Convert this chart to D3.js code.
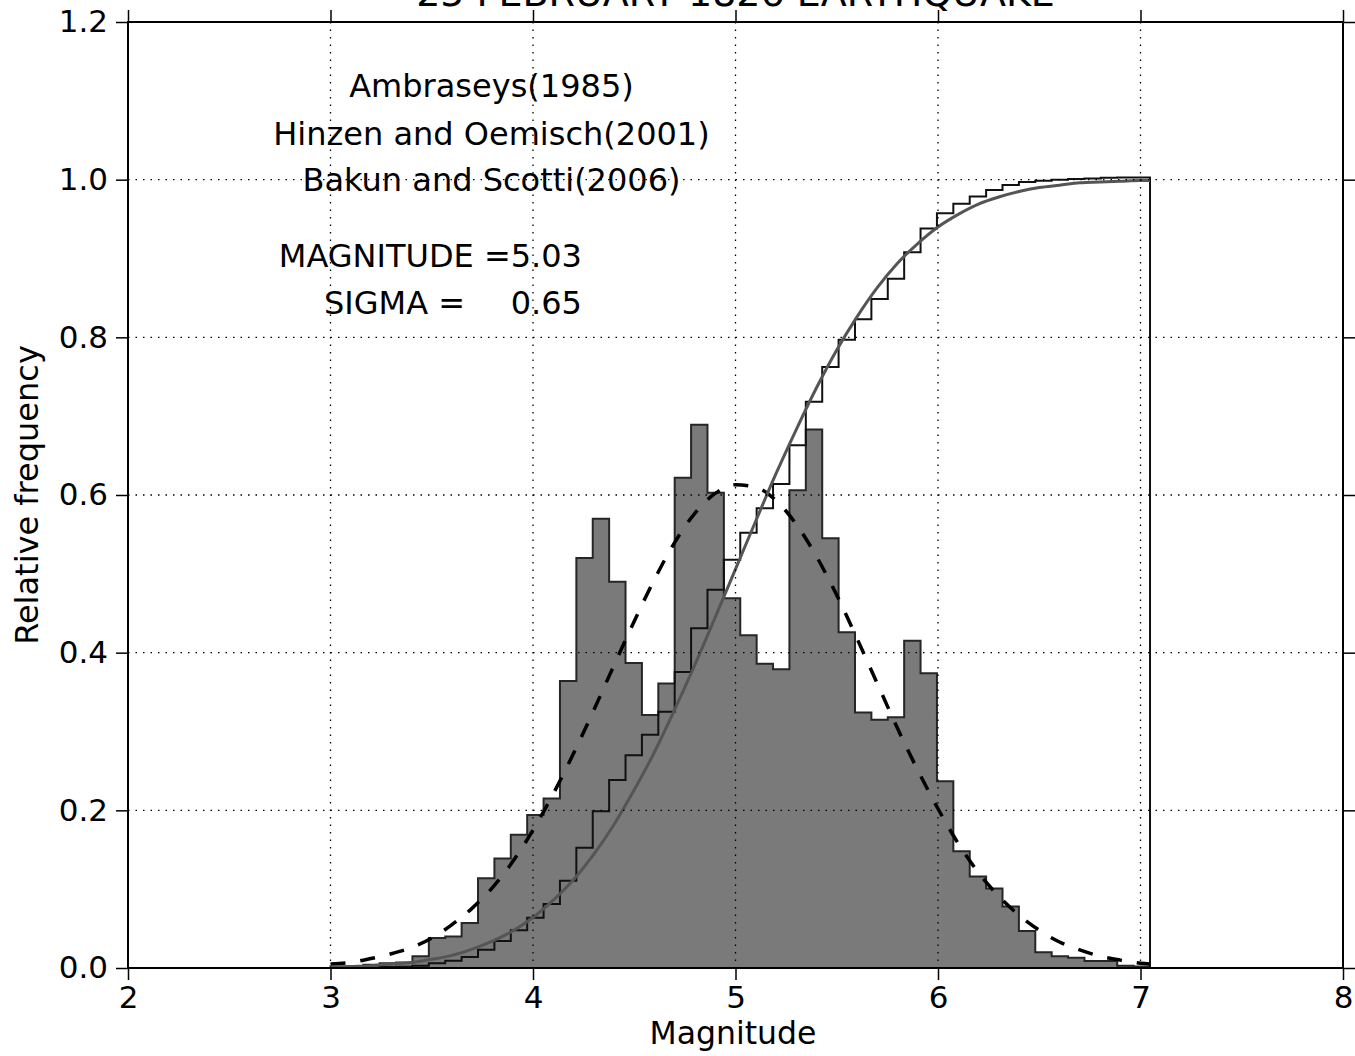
<!DOCTYPE html>
<html>
<head>
<meta charset="utf-8">
<script src="https://cdn.jsdelivr.net/npm/d3@7/dist/d3.min.js"></script>
<style>
html, body { margin: 0; padding: 0; background: #fff; overflow: hidden; }
svg { display: block; }
text { font-family: "DejaVu Sans", sans-serif; fill: #000; }
</style>
</head>
<body>
<div id="chart"></div>
<script>
// histogram: 50 equal bins between magMin and magMax (relative frequency, density)
const magMin = 3.0;
const magMax = 7.047;
const relFreq = [
  0.002, 0.002, 0.004, 0.006, 0.007, 0.015, 0.038, 0.040, 0.057, 0.114,
  0.139, 0.169, 0.194, 0.215, 0.364, 0.520, 0.570, 0.490, 0.387, 0.321,
  0.361, 0.622, 0.689, 0.603, 0.469, 0.422, 0.386, 0.379, 0.606, 0.683,
  0.545, 0.426, 0.324, 0.315, 0.318, 0.415, 0.374, 0.237, 0.148, 0.116,
  0.101, 0.078, 0.047, 0.020, 0.015, 0.013, 0.009, 0.009, 0.003, 0.002
];

// fitted curves read at these magnitudes
const curveMags = [
  3.0, 3.1, 3.2, 3.3, 3.4, 3.5, 3.6, 3.7, 3.8, 3.9,
  4.0, 4.1, 4.2, 4.3, 4.4, 4.5, 4.6, 4.7, 4.8, 4.9,
  5.0, 5.1, 5.2, 5.3, 5.4, 5.5, 5.6, 5.7, 5.8, 5.9,
  6.0, 6.1, 6.2, 6.3, 6.4, 6.5, 6.6, 6.7, 6.8, 6.9,
  7.0, 7.047
];
const normalPdf = [
  0.005, 0.007, 0.012, 0.018, 0.026, 0.038, 0.055, 0.076, 0.102, 0.135,
  0.175, 0.221, 0.272, 0.327, 0.384, 0.440, 0.493, 0.540, 0.577, 0.602,
  0.613, 0.610, 0.593, 0.563, 0.522, 0.473, 0.418, 0.361, 0.304, 0.251,
  0.202, 0.158, 0.121, 0.091, 0.067, 0.048, 0.033, 0.023, 0.015, 0.010,
  0.006, 0.005
];
const normalCdf = [
  0.001, 0.002, 0.003, 0.005, 0.007, 0.011, 0.016, 0.024, 0.034, 0.047,
  0.064, 0.086, 0.112, 0.144, 0.182, 0.226, 0.274, 0.328, 0.385, 0.445,
  0.506, 0.567, 0.627, 0.683, 0.736, 0.784, 0.826, 0.863, 0.894, 0.919,
  0.940, 0.956, 0.969, 0.978, 0.985, 0.990, 0.993, 0.996, 0.997, 0.998,
  0.999, 0.999
];

const xTicks = [2, 3, 4, 5, 6, 7, 8];
const yTicks = [0.0, 0.2, 0.4, 0.6, 0.8, 1.0, 1.2];
const titleText = "25 FEBRUARY 1826 EARTHQUAKE";
const sourceLines = ["Ambraseys(1985)", "Hinzen and Oemisch(2001)", "Bakun and Scotti(2006)"];
const magnitudeValue = "5.03";
const sigmaValue = "0.65";

const width = 1355, height = 1056;
const margin = { top: 22, right: 12, bottom: 88, left: 128 };
const innerWidth = width - margin.left - margin.right;
const innerHeight = height - margin.top - margin.bottom;

const svg = d3.select("#chart").append("svg")
  .attr("width", width)
  .attr("height", height)
  .style("background", "#fff");

const g = svg.append("g")
  .attr("transform", `translate(${margin.left},${margin.top})`);

const x = d3.scaleLinear().domain([2, 8]).range([0, innerWidth]);
const y = d3.scaleLinear().domain([0, 1.2]).range([innerHeight, 0]);

// bins
const binWidth = (magMax - magMin) / relFreq.length;
const bins = relFreq.map((v, i) => ({ x0: magMin + i * binWidth, x1: magMin + (i + 1) * binWidth, v: v }));
const cumul = d3.cumsum(relFreq, v => v * binWidth);

// stepfilled histogram
let stepPts = [[magMin, 0]];
bins.forEach(b => { stepPts.push([b.x0, b.v]); stepPts.push([b.x1, b.v]); });
stepPts.push([magMax, 0]);
const line = d3.line().x(d => x(d[0])).y(d => y(d[1]));

g.append("path")
  .attr("d", line(stepPts) + "Z")
  .attr("fill", "#7a7a7a")
  .attr("stroke", "#262626")
  .attr("stroke-width", 2)
  .attr("stroke-linejoin", "miter");

// cumulative step outline
let cumPts = [[magMin, 0]];
bins.forEach((b, i) => { cumPts.push([b.x0, cumul[i]]); cumPts.push([b.x1, cumul[i]]); });
cumPts.push([magMax, 0]);
g.append("path")
  .attr("d", line(cumPts))
  .attr("fill", "none")
  .attr("stroke", "#111")
  .attr("stroke-width", 2);

// normal pdf (dashed)
const curveLine = d3.line().x((d, i) => x(curveMags[i])).y(d => y(d)).curve(d3.curveMonotoneX);
g.append("path")
  .attr("d", curveLine(normalPdf))
  .attr("fill", "none")
  .attr("stroke", "#000")
  .attr("stroke-width", 3.5)
  .attr("stroke-dasharray", "15,15");

// normal cdf (grey)
g.append("path")
  .attr("d", curveLine(normalCdf))
  .attr("fill", "none")
  .attr("stroke", "#555")
  .attr("stroke-width", 3);

// grid, on top like the original
const grid = g.append("g").attr("class", "grid");
grid.selectAll(".gx").data(xTicks.slice(1, -1)).join("line")
  .attr("x1", d => x(d)).attr("x2", d => x(d))
  .attr("y1", 0).attr("y2", innerHeight);
grid.selectAll(".gy").data(yTicks.slice(1, -1)).join("line")
  .attr("x1", 0).attr("x2", innerWidth)
  .attr("y1", d => y(d)).attr("y2", d => y(d));
grid.selectAll("line")
  .attr("stroke", "#000")
  .attr("stroke-width", 1.3)
  .attr("stroke-dasharray", "1.5,6");

// axes (ticks point outward)
const fmtY = d3.format(".1f");
g.append("g")
  .attr("transform", `translate(0,${innerHeight})`)
  .call(d3.axisBottom(x).tickValues(xTicks).tickFormat(d3.format("d")).tickSize(12).tickSizeOuter(0).tickPadding(6));
g.append("g")
  .call(d3.axisLeft(y).tickValues(yTicks).tickFormat(fmtY).tickSize(12).tickSizeOuter(0).tickPadding(8));
g.append("g")
  .call(d3.axisTop(x).tickValues(xTicks).tickFormat("").tickSize(12).tickSizeOuter(0));
g.append("g")
  .attr("transform", `translate(${innerWidth},0)`)
  .call(d3.axisRight(y).tickValues(yTicks).tickFormat("").tickSize(12).tickSizeOuter(0));

g.selectAll(".domain").remove();
g.selectAll(".tick line").attr("stroke", "#000").attr("stroke-width", 1.5);
g.selectAll(".tick text")
  .style("font-family", "'DejaVu Sans', sans-serif")
  .style("font-size", "31px")
  .attr("fill", "#000");

// frame
g.append("rect")
  .attr("width", innerWidth).attr("height", innerHeight)
  .attr("fill", "none").attr("stroke", "#000").attr("stroke-width", 2);

// axis labels
svg.append("text")
  .attr("x", 733)
  .attr("y", 1044)
  .attr("text-anchor", "middle")
  .style("font-size", "31.5px")
  .text("Magnitude");

svg.append("text")
  .attr("transform", "rotate(-90)")
  .attr("x", -(margin.top + innerHeight / 2))
  .attr("y", 38)
  .attr("text-anchor", "middle")
  .style("font-size", "32px")
  .text("Relative frequency");

// title (mostly cut off above the figure)
svg.append("text")
  .attr("x", margin.left + innerWidth / 2)
  .attr("y", 6)
  .attr("text-anchor", "middle")
  .style("font-size", "38px")
  .text(titleText);

// sources
const sourceY = [1.105, 1.044, 0.985];
g.selectAll(".src").data(sourceLines).join("text")
  .attr("x", x(3.795))
  .attr("y", (d, i) => y(sourceY[i]))
  .attr("text-anchor", "middle")
  .style("font-size", "32px")
  .text(d => d);

// fitted parameters
g.append("text").attr("x", x(2.745)).attr("y", y(0.889))
  .style("font-size", "32px").text("MAGNITUDE =");
g.append("text").attr("x", x(3.89)).attr("y", y(0.889))
  .style("font-size", "32px").text(magnitudeValue);
g.append("text").attr("x", x(2.968)).attr("y", y(0.83))
  .style("font-size", "32px").text("SIGMA =");
g.append("text").attr("x", x(3.89)).attr("y", y(0.83))
  .style("font-size", "32px").text(sigmaValue);
</script>
</body>
</html>
